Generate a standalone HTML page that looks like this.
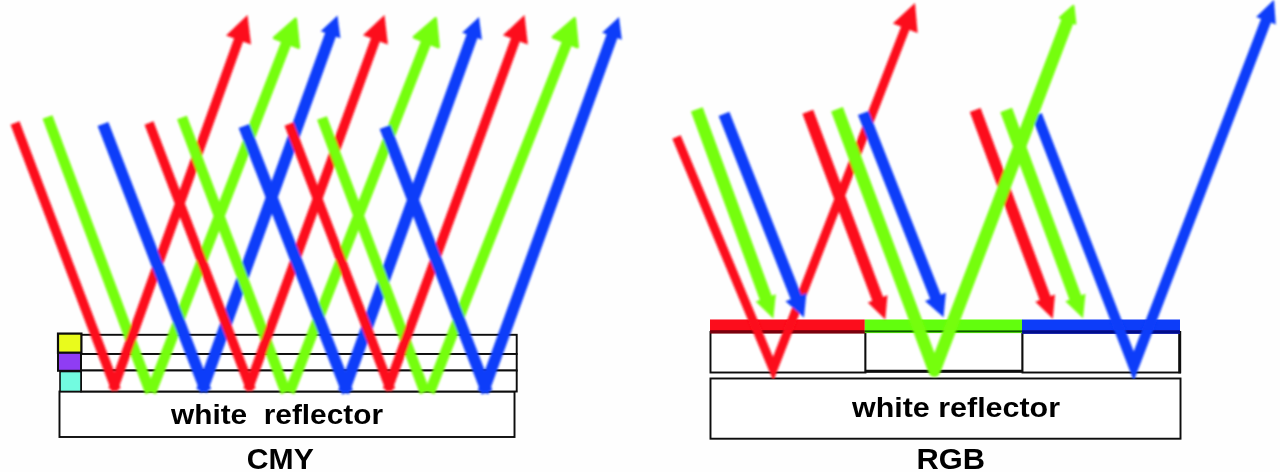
<!DOCTYPE html><html><head><meta charset="utf-8"><title>CMY vs RGB reflective display</title>
<style>html,body{margin:0;padding:0;background:#fff;}body{width:1280px;height:472px;overflow:hidden;}svg{display:block;}text{font-family:"Liberation Sans",sans-serif;font-weight:bold;fill:#050505;}</style></head><body>
<svg width="1280" height="472" viewBox="0 0 1280 472">
<rect width="1280" height="472" fill="#fefefe"/>
<defs><filter id="bs" x="-2%" y="-2%" width="104%" height="104%"><feGaussianBlur stdDeviation="0.45"/></filter><filter id="br" x="-2%" y="-2%" width="104%" height="104%"><feGaussianBlur stdDeviation="0.9"/></filter></defs>
<g filter="url(#bs)">

<g fill="none" stroke="#0a0a0a" stroke-width="1.9">
<rect x="59.5" y="391.5" width="455" height="45.5" fill="#fff"/>
<rect x="81" y="334.8" width="435.7" height="19.2" fill="#fff"/>
<rect x="81" y="354" width="435.7" height="16.5" fill="#fff"/>
<rect x="81" y="370.5" width="435.7" height="21" fill="#fff"/>
<rect x="58" y="333.6" width="23.4" height="19.2" fill="#e9fb1e" stroke-width="2.2"/>
<rect x="58" y="352.8" width="23" height="18" fill="#8f3cf3" stroke-width="2"/>
<rect x="60" y="371.5" width="21" height="20" fill="#72fbe0" stroke-width="1.6"/>
</g>
</g>
<g filter="url(#br)">
<polygon points="42.58,118.84 145.38,394.29 155.22,390.62 52.42,115.16" fill="#74fe08"/><polygon points="155.96,394.33 291.31,44.44 281.52,40.65 146.17,390.54" fill="#74fe08"/><polygon points="295.61,19.04 298.56,47.29 274.28,37.79" fill="#74fe08" stroke="#74fe08" stroke-width="3" stroke-linejoin="round"/>
<polygon points="10.56,124.68 111.74,391.63 120.63,388.26 19.44,121.32" fill="#fc0d1b"/><polygon points="117.37,391.58 243.52,40.13 234.58,36.93 108.42,388.37" fill="#fc0d1b"/><polygon points="247.50,15.00 251.02,44.42 226.08,35.46" fill="#fc0d1b"/>
<polygon points="97.63,126.07 200.45,393.03 211.18,388.90 108.37,121.93" fill="#103ef9"/><polygon points="207.20,392.96 336.45,35.32 325.63,31.41 196.39,389.05" fill="#103ef9"/><polygon points="337.50,15.50 340.41,38.35 320.66,31.21" fill="#103ef9"/>
<polygon points="177.09,119.35 280.90,394.30 290.72,390.59 186.91,115.65" fill="#74fe08"/><polygon points="294.45,394.34 431.14,43.88 421.35,40.07 284.66,390.53" fill="#74fe08"/><polygon points="435.59,18.54 438.36,46.80 414.14,37.15" fill="#74fe08" stroke="#74fe08" stroke-width="3" stroke-linejoin="round"/>
<polygon points="144.56,124.70 246.76,391.63 255.63,388.24 153.44,121.30" fill="#fc0d1b"/><polygon points="252.34,391.59 380.40,40.12 371.48,36.86 243.41,388.34" fill="#fc0d1b"/><polygon points="384.50,15.00 387.88,44.43 362.98,35.36" fill="#fc0d1b"/>
<polygon points="238.64,128.08 342.23,394.44 352.94,390.27 249.36,123.92" fill="#103ef9"/><polygon points="348.96,394.36 477.96,36.82 467.14,32.92 338.14,390.46" fill="#103ef9"/><polygon points="479.00,17.00 481.92,39.85 462.17,32.72" fill="#103ef9"/>
<polygon points="317.08,119.84 419.99,394.29 429.82,390.61 326.92,116.16" fill="#74fe08"/><polygon points="434.54,394.35 572.17,43.91 562.40,40.07 424.76,390.51" fill="#74fe08"/><polygon points="574.59,18.54 577.40,46.80 553.17,37.18" fill="#74fe08" stroke="#74fe08" stroke-width="3" stroke-linejoin="round"/>
<polygon points="284.56,125.70 386.26,391.63 395.13,388.24 293.44,122.30" fill="#fc0d1b"/><polygon points="391.83,391.59 520.37,40.11 511.45,36.85 382.91,388.33" fill="#fc0d1b"/><polygon points="524.50,15.00 527.84,44.44 502.95,35.34" fill="#fc0d1b"/>
<polygon points="379.63,129.06 481.70,394.43 492.43,390.30 390.37,124.94" fill="#103ef9"/><polygon points="488.45,394.36 617.94,36.82 607.12,32.91 477.64,390.45" fill="#103ef9"/><polygon points="619.00,17.00 621.89,39.85 602.15,32.70" fill="#103ef9"/>
</g>
<g filter="url(#bs)">
<text x="171" y="423.8" font-size="27" textLength="212" lengthAdjust="spacingAndGlyphs" style="white-space:pre">white  reflector</text>
<text x="246.8" y="469" font-size="29" textLength="67" lengthAdjust="spacingAndGlyphs">CMY</text>
</g>
<g filter="url(#bs)">

<g fill="none" stroke="#0a0a0a" stroke-width="1.9">
<rect x="710.5" y="378.5" width="470" height="60.2" fill="#fff"/>
<rect x="710.5" y="332" width="155" height="40.5" fill="#fff"/>
<rect x="865.5" y="332" width="157" height="39.5" fill="#fff" stroke-width="1.8"/>
<rect x="1022.5" y="332" width="157.5" height="40.5" fill="#fff"/>
<line x1="1179.7" y1="331" x2="1179.7" y2="373.3" stroke-width="3"/>
<line x1="865" y1="371.3" x2="1023" y2="371.3" stroke-width="3"/>
</g>
<rect x="710" y="319.5" width="154.8" height="13" fill="#fc0d1b"/>
<rect x="710" y="330.2" width="154.8" height="3.4" fill="#7a0008"/>
<rect x="864.8" y="319.5" width="157.5" height="13.6" fill="#62fe0b"/>
<rect x="864.8" y="330.4" width="157.5" height="1.9" fill="#0e5e00"/>
<rect x="1022" y="319.5" width="158" height="14.2" fill="#103ef9"/>
<rect x="1022" y="330.2" width="158" height="3.5" fill="#06088a"/>

</g>
<g filter="url(#br)">
<polyline points="676.5,137 773.2,369 905.79,26.78" fill="none" stroke="#fc0d1b" stroke-width="9" stroke-linejoin="miter" stroke-miterlimit="10"/><polygon points="915.00,3.00 917.60,32.96 892.89,23.39" fill="#fc0d1b"/>
<polygon points="690.93,111.45 760.39,301.39 772.13,297.10 702.67,107.15" fill="#74fe08"/><polygon points="773.30,318.50 755.65,301.53 775.84,294.15" fill="#74fe08"/>
<polygon points="718.65,115.90 791.15,300.52 801.86,296.32 729.35,111.70" fill="#103ef9"/><polygon points="804.00,317.50 785.49,301.14 806.43,292.91" fill="#103ef9"/>
<polygon points="802.41,113.81 872.75,302.30 883.52,298.28 813.19,109.79" fill="#fc0d1b"/><polygon points="885.30,319.50 867.77,302.56 887.45,295.22" fill="#fc0d1b"/>
<polygon points="857.95,115.10 930.66,300.32 941.36,296.12 868.65,110.90" fill="#103ef9"/><polygon points="943.50,317.30 924.99,300.93 945.93,292.71" fill="#103ef9"/>
<polygon points="969.81,112.00 1040.27,301.59 1051.05,297.58 980.59,108.00" fill="#fc0d1b"/><polygon points="1052.80,318.80 1035.29,301.84 1054.98,294.52" fill="#fc0d1b"/>
<polyline points="1036.8,115 1133.75,366.2 1266.49,19.31" fill="none" stroke="#103ef9" stroke-width="10.6" stroke-linejoin="miter" stroke-miterlimit="10"/><polygon points="1274.00,-0.30 1275.77,24.47 1256.15,16.96" fill="#103ef9"/>
<polyline points="837,109.3 934.4,370.6 1067.79,20.32" fill="none" stroke="#74fe08" stroke-width="12.5" stroke-linejoin="round" stroke-miterlimit="10"/><polygon points="1073.23,6.06 1075.14,23.39 1060.27,17.72" fill="#74fe08" stroke="#74fe08" stroke-width="2.5" stroke-linejoin="round"/>
<polygon points="1000.34,112.16 1070.04,301.13 1081.77,296.80 1012.06,107.84" fill="#74fe08"/><polygon points="1083.00,318.20 1065.30,301.28 1085.47,293.84" fill="#74fe08"/>
</g>
<g filter="url(#bs)">
<text x="852" y="417" font-size="27.5" textLength="208" lengthAdjust="spacingAndGlyphs">white reflector</text>
<text x="916.6" y="469" font-size="29" textLength="68.5" lengthAdjust="spacingAndGlyphs">RGB</text>
</g>
</svg></body></html>
